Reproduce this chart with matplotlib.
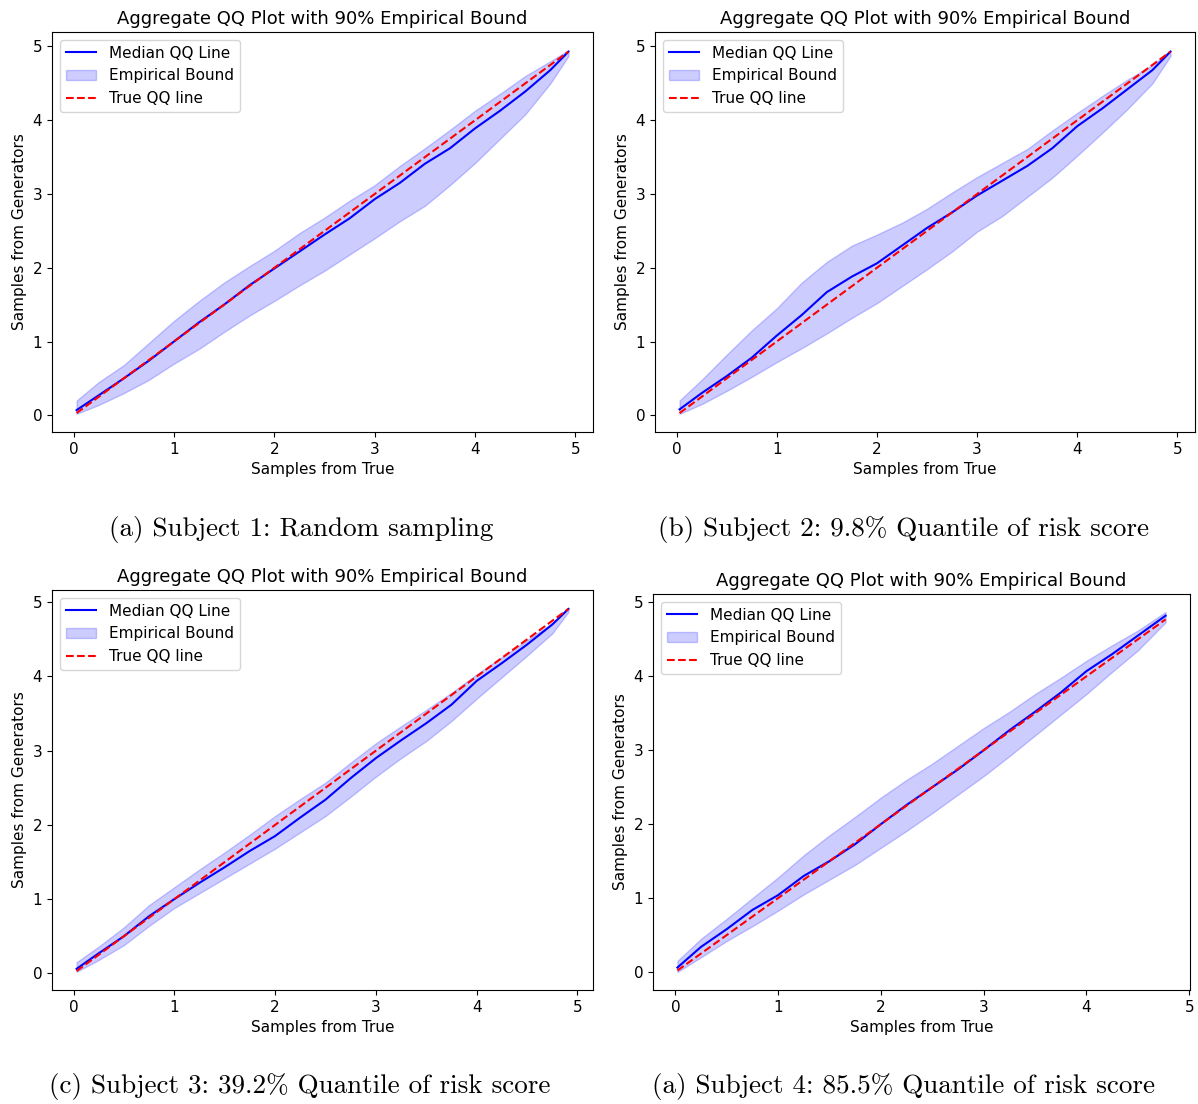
import numpy as np
import matplotlib.pyplot as plt

# quantile grid (samples from true) and read-off curves per subject
x_a = [0.03, 0.25, 0.5, 0.75, 1.0, 1.25, 1.5, 1.75, 2.0, 2.25, 2.5, 2.75, 3.0, 3.25, 3.5, 3.75, 4.0, 4.25, 4.5, 4.75, 4.93]
med_a = [0.07, 0.27, 0.50, 0.74, 1.00, 1.26, 1.50, 1.76, 1.99, 2.22, 2.45, 2.67, 2.93, 3.15, 3.41, 3.62, 3.89, 4.13, 4.39, 4.68, 4.93]
up_a = [0.20, 0.45, 0.68, 0.98, 1.28, 1.55, 1.80, 2.02, 2.23, 2.47, 2.68, 2.91, 3.12, 3.38, 3.62, 3.87, 4.13, 4.36, 4.60, 4.80, 4.95]
lo_a = [0.02, 0.14, 0.30, 0.48, 0.70, 0.90, 1.13, 1.35, 1.55, 1.76, 1.96, 2.18, 2.40, 2.63, 2.84, 3.12, 3.42, 3.75, 4.08, 4.50, 4.87]

x_b = [0.03, 0.25, 0.5, 0.75, 1.0, 1.25, 1.5, 1.75, 2.0, 2.25, 2.5, 2.75, 3.0, 3.25, 3.5, 3.75, 4.0, 4.25, 4.5, 4.75, 4.93]
med_b = [0.08, 0.30, 0.53, 0.78, 1.08, 1.36, 1.67, 1.88, 2.06, 2.30, 2.54, 2.75, 2.98, 3.18, 3.38, 3.62, 3.92, 4.16, 4.42, 4.68, 4.93]
up_b = [0.20, 0.48, 0.82, 1.15, 1.45, 1.80, 2.08, 2.30, 2.45, 2.61, 2.80, 3.02, 3.23, 3.42, 3.61, 3.86, 4.10, 4.33, 4.55, 4.75, 4.95]
lo_b = [0.02, 0.15, 0.33, 0.52, 0.72, 0.91, 1.11, 1.32, 1.52, 1.75, 1.98, 2.22, 2.49, 2.70, 2.96, 3.22, 3.52, 3.83, 4.15, 4.50, 4.87]

x_c = [0.03, 0.25, 0.5, 0.75, 1.0, 1.25, 1.5, 1.75, 2.0, 2.25, 2.5, 2.75, 3.0, 3.25, 3.5, 3.75, 4.0, 4.25, 4.5, 4.75, 4.91]
med_c = [0.06, 0.27, 0.50, 0.77, 1.00, 1.22, 1.43, 1.65, 1.85, 2.10, 2.34, 2.63, 2.90, 3.14, 3.37, 3.62, 3.94, 4.18, 4.43, 4.70, 4.91]
up_c = [0.15, 0.36, 0.62, 0.92, 1.16, 1.40, 1.63, 1.87, 2.12, 2.35, 2.57, 2.84, 3.10, 3.33, 3.55, 3.78, 4.03, 4.26, 4.49, 4.72, 4.92]
lo_c = [0.02, 0.18, 0.38, 0.64, 0.88, 1.08, 1.28, 1.48, 1.68, 1.90, 2.12, 2.38, 2.65, 2.90, 3.13, 3.40, 3.70, 3.99, 4.28, 4.58, 4.87]

x_d = [0.02, 0.25, 0.5, 0.75, 1.0, 1.25, 1.5, 1.75, 2.0, 2.25, 2.5, 2.75, 3.0, 3.25, 3.5, 3.75, 4.0, 4.25, 4.5, 4.77]
med_d = [0.06, 0.34, 0.58, 0.84, 1.04, 1.30, 1.50, 1.73, 2.00, 2.26, 2.50, 2.74, 3.00, 3.27, 3.52, 3.78, 4.07, 4.30, 4.55, 4.82]
up_d = [0.15, 0.45, 0.72, 1.00, 1.28, 1.58, 1.85, 2.10, 2.36, 2.60, 2.82, 3.06, 3.30, 3.52, 3.76, 3.98, 4.21, 4.42, 4.62, 4.87]
lo_d = [0.00, 0.20, 0.42, 0.62, 0.83, 1.05, 1.25, 1.45, 1.68, 1.91, 2.15, 2.40, 2.65, 2.92, 3.20, 3.48, 3.76, 4.06, 4.35, 4.73]

captions = ['(a) Subject 1: Random sampling',
            '(b) Subject 2: 9.8% Quantile of risk score',
            '(c) Subject 3: 39.2% Quantile of risk score',
            '(a) Subject 4: 85.5% Quantile of risk score']

W, H = 1198, 1104
fig = plt.figure(figsize=(W / 100, H / 100), dpi=100)

# axes boxes in pixels: left, top, right, bottom
boxes = [(52, 32, 593, 432), (655, 32, 1195, 432),
         (52, 590, 593, 990), (653, 594, 1190, 990)]
cap_pos = [(301, 529), (903, 529), (300, 1086), (903, 1086)]

panels = [(x_a, med_a, up_a, lo_a), (x_b, med_b, up_b, lo_b),
          (x_c, med_c, up_c, lo_c), (x_d, med_d, up_d, lo_d)]

for (l, t, r, b), (x, med, up, lo), cap, (cx, cy) in zip(boxes, panels, captions, cap_pos):
    ax = fig.add_axes([l / W, 1 - b / H, (r - l) / W, (b - t) / H])
    x = np.array(x)
    ax.plot(x, med, color='blue', label='Median QQ Line')
    ax.fill_between(x, lo, up, color='blue', alpha=0.2, label='Empirical Bound')
    ax.plot(x, x, 'r--', label='True QQ line')
    ax.set_title('Aggregate QQ Plot with 90% Empirical Bound', fontsize=13)
    ax.set_xlabel('Samples from True', fontsize=11)
    ax.set_ylabel('Samples from Generators', fontsize=11)
    ax.tick_params(labelsize=11)
    ax.legend(loc='upper left', fontsize=11)
    fig.text(cx / W, 1 - cy / H, cap, ha='center', va='center',
             family='cmr10', fontsize=19.5)

plt.savefig('out.png')
